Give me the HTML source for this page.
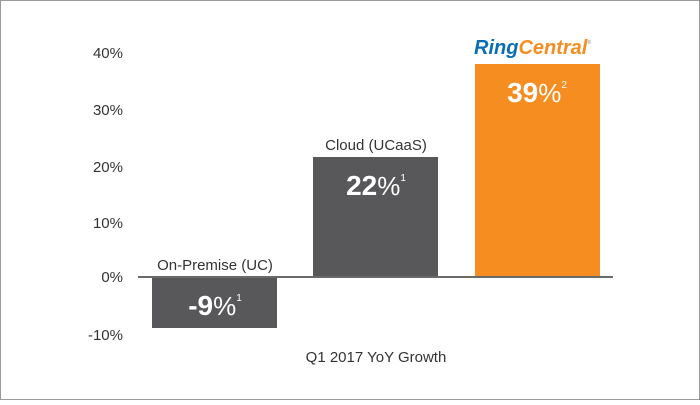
<!DOCTYPE html>
<html><head><style>
body{margin:0;width:700px;height:400px;overflow:hidden;background:#fff}
</style></head><body>
<svg width="700" height="400" xmlns="http://www.w3.org/2000/svg" font-family="Liberation Sans, sans-serif">
<rect x="0.5" y="0.5" width="699" height="399" fill="#fff" stroke="#9a9a9a"/>
<g fill="#333" font-size="15" text-anchor="end">
<text x="123" y="58">40%</text>
<text x="123" y="115">30%</text>
<text x="123" y="172">20%</text>
<text x="123" y="228">10%</text>
<text x="123" y="282">0%</text>
<text x="123" y="340">-10%</text>
</g>
<rect x="152" y="277" width="125" height="51" fill="#58585a"/>
<rect x="313" y="157" width="125" height="120" fill="#58585a"/>
<rect x="475" y="64" width="125" height="213" fill="#f68d21"/>
<line x1="138" y1="277" x2="613" y2="277" stroke="#6a6a6a" stroke-width="2"/>
<g fill="#333" font-size="15" text-anchor="middle">
<text x="215" y="270">On-Premise (UC)</text>
<text x="376" y="150">Cloud (UCaaS)</text>
<text x="376" y="362">Q1 2017 YoY Growth</text>
</g>
<g fill="#fff" font-weight="bold" text-anchor="middle">
<text x="215" y="315" font-size="28">-9<tspan font-weight="normal" font-size="26">%</tspan><tspan font-size="10" font-weight="normal" dy="-14">1</tspan></text>
<text x="376" y="195" font-size="28">22<tspan font-weight="normal" font-size="26">%</tspan><tspan font-size="10" font-weight="normal" dy="-14">1</tspan></text>
<text x="537" y="102" font-size="28">39<tspan font-weight="normal" font-size="26">%</tspan><tspan font-size="10" font-weight="normal" dy="-14">2</tspan></text>
</g>
<text x="474" y="54" font-size="20" font-weight="bold" font-style="italic"><tspan fill="#0a6eb4">Ring</tspan><tspan fill="#f68d21">Central</tspan><tspan fill="#999" font-size="5" dy="-10">®</tspan></text>
</svg>
</body></html>
